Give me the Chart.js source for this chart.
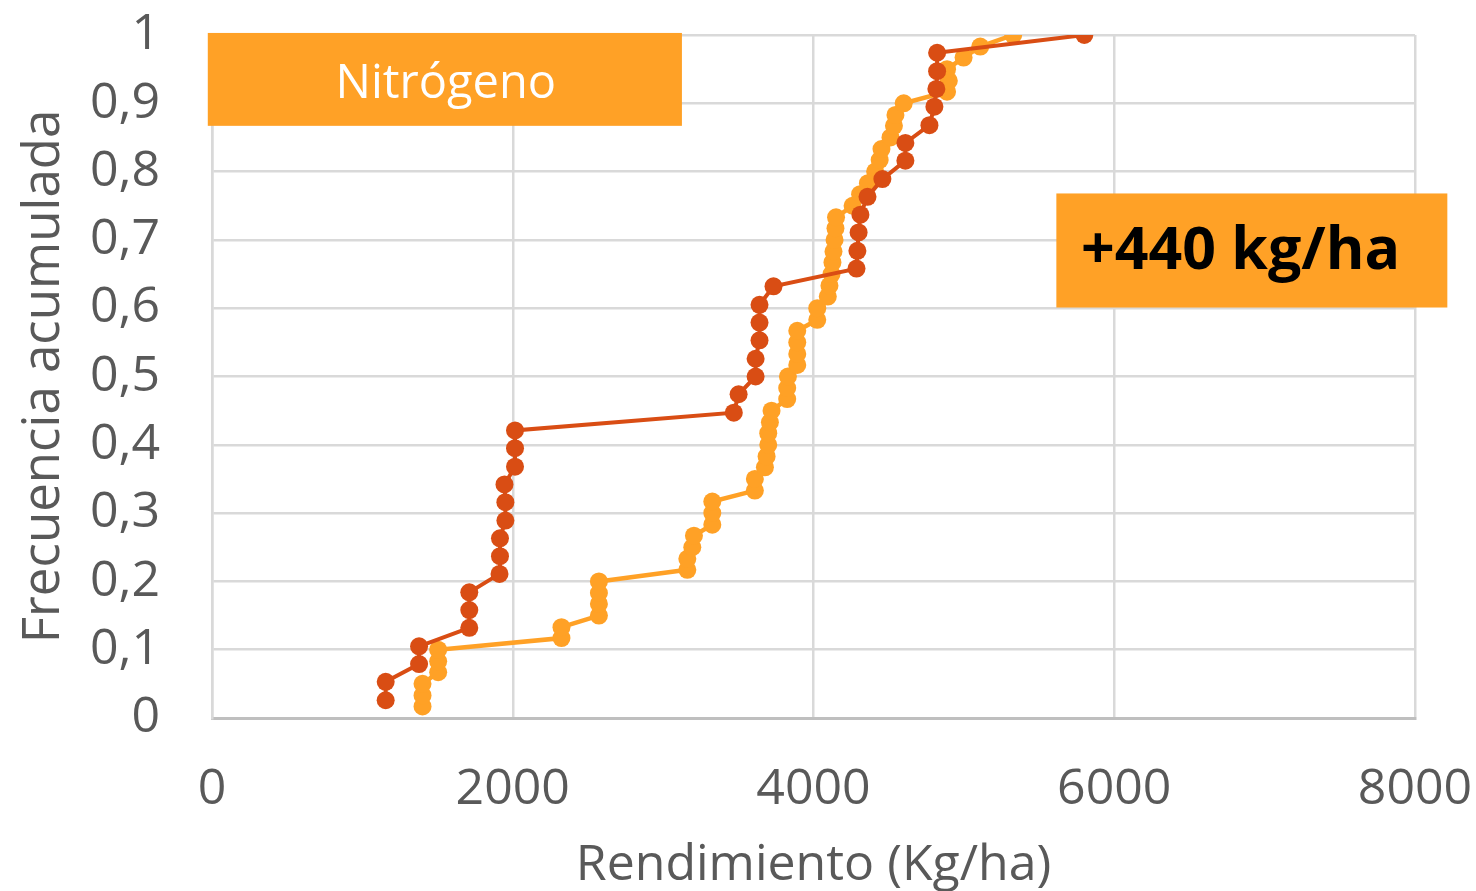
<!DOCTYPE html>
<html>
<head>
<meta charset="utf-8">
<script src="https://cdn.jsdelivr.net/npm/chart.js@4.4.1/dist/chart.umd.min.js"></script>
<style>
  html, body { margin: 0; padding: 0; background: #ffffff; }
  #wrap { width: 1476px; height: 891px; }
</style>
</head>
<body>
<div id="wrap"><canvas id="freqChart" width="1476" height="891"></canvas></div>
<script>
// tick labels
var xTicks = [0, 2000, 4000, 6000, 8000];
var yTickLabels = ['0', '0,1', '0,2', '0,3', '0,4', '0,5', '0,6', '0,7', '0,8', '0,9', '1'];

// dark series (38 points)
var darkYield = [1155, 1155, 1377, 1377, 1711, 1711, 1711, 1912, 1915, 1915,
                 1951, 1951, 1945, 2015, 2015, 2015, 3470, 3502, 3615, 3615,
                 3641, 3641, 3641, 3734, 4286, 4292, 4300, 4312, 4359, 4458,
                 4611, 4611, 4771, 4804, 4817, 4822, 4822, 5801];
var darkFreq = [0.026, 0.053, 0.079, 0.105, 0.132, 0.158, 0.184, 0.211, 0.237, 0.263,
                0.289, 0.316, 0.342, 0.368, 0.395, 0.421, 0.447, 0.474, 0.5, 0.526,
                0.553, 0.579, 0.605, 0.632, 0.658, 0.684, 0.711, 0.737, 0.763, 0.789,
                0.816, 0.842, 0.868, 0.895, 0.921, 0.947, 0.974, 1];

// light series (60 points)
var lightYield = [1400, 1400, 1400, 1504, 1504, 1504, 2324, 2324, 2573, 2573,
                  2573, 2573, 3161, 3161, 3194, 3205, 3327, 3327, 3327, 3610,
                  3610, 3677, 3688, 3699, 3699, 3710, 3721, 3825, 3825, 3830,
                  3892, 3892, 3892, 3892, 4025, 4025, 4095, 4106, 4120, 4126,
                  4133, 4140, 4146, 4150, 4260, 4310, 4362, 4410, 4440, 4452,
                  4512, 4535, 4545, 4600, 4888, 4900, 4888, 4998, 5109, 5328];
var lightFreq = [0.017, 0.033, 0.05, 0.067, 0.083, 0.1, 0.117, 0.133, 0.15, 0.167,
                 0.183, 0.2, 0.217, 0.233, 0.25, 0.267, 0.283, 0.3, 0.317, 0.333,
                 0.35, 0.367, 0.383, 0.4, 0.417, 0.433, 0.45, 0.467, 0.483, 0.5,
                 0.517, 0.533, 0.55, 0.567, 0.583, 0.6, 0.617, 0.633, 0.65, 0.667,
                 0.683, 0.7, 0.717, 0.733, 0.75, 0.767, 0.783, 0.8, 0.817, 0.833,
                 0.85, 0.867, 0.883, 0.9, 0.917, 0.933, 0.95, 0.967, 0.983, 1];

var FONT = "'Open Sans', 'Noto Sans', sans-serif";

function toPoints(xs, ys) {
    return xs.map(function (v, i) { return { x: v, y: ys[i] }; });
}

// label boxes, placed in axis units
var labelBoxes = [
    { text: 'Nitrógeno', x0: -28, x1: 3125, y0: 0.867, y1: 1.003, tx: 1555, dy: 5,
      fill: '#FFA126', color: '#ffffff', font: '47px ' + FONT },
    { text: '+440 kg/ha', x0: 5615, x1: 8215, y0: 0.601, y1: 0.768, tx: 6840, dy: 2,
      fill: '#FFA126', color: '#000000', font: 'bold 59px ' + FONT }
];

var boxPlugin = {
    id: 'labelBoxes',
    afterDraw: function (chart) {
        var ctx = chart.ctx, xs = chart.scales.x, ys = chart.scales.y;
        labelBoxes.forEach(function (b) {
            var l = xs.getPixelForValue(b.x0), r = xs.getPixelForValue(b.x1);
            var t = ys.getPixelForValue(b.y1), btm = ys.getPixelForValue(b.y0);
            ctx.save();
            ctx.fillStyle = b.fill;
            ctx.fillRect(l, t, r - l, btm - t);
            ctx.fillStyle = b.color;
            ctx.font = b.font;
            ctx.textAlign = 'center';
            ctx.textBaseline = 'middle';
            ctx.fillText(b.text, xs.getPixelForValue(b.tx), (t + btm) / 2 + b.dy);
            ctx.restore();
        });
    }
};

new Chart(document.getElementById('freqChart'), {
    type: 'scatter',
    data: {
        datasets: [
            {
                label: 'dark',
                data: toPoints(darkYield, darkFreq),
                showLine: true,
                borderColor: '#D94D14',
                backgroundColor: '#D94D14',
                borderWidth: 4,
                pointRadius: 9,
                pointHoverRadius: 9,
                pointBorderWidth: 0,
                tension: 0
            },
            {
                label: 'light',
                data: toPoints(lightYield, lightFreq),
                showLine: true,
                borderColor: '#FFA126',
                backgroundColor: '#FFA126',
                borderWidth: 4.5,
                pointRadius: 9,
                pointHoverRadius: 9,
                pointBorderWidth: 0,
                tension: 0
            }
        ]
    },
    options: {
        responsive: false,
        animation: false,
        devicePixelRatio: 1,
        layout: { padding: { top: 35, right: 61, bottom: 0, left: 0 } },
        plugins: {
            legend: { display: false },
            tooltip: { enabled: false }
        },
        scales: {
            x: {
                type: 'linear',
                min: 0,
                max: 8000,
                afterBuildTicks: function (scale) {
                    scale.ticks = xTicks.map(function (v) { return { value: v }; });
                },
                afterFit: function (scale) {
                    scale.height = 173;
                    scale.paddingLeft = 0;
                    scale.paddingRight = 0;
                },
                grid: { color: '#D9D9D9', lineWidth: 2.5, drawTicks: false },
                border: { color: '#BFBFBF', width: 3 },
                ticks: {
                    padding: 42,
                    color: '#595959',
                    font: { family: FONT, size: 50 },
                    maxRotation: 0,
                    callback: function (v) { return String(v); }
                },
                title: {
                    display: true,
                    text: 'Rendimiento (Kg/ha)',
                    color: '#595959',
                    font: { family: FONT, size: 50 },
                    padding: { top: 0, bottom: -5 }
                }
            },
            y: {
                type: 'linear',
                min: 0,
                max: 1,
                afterBuildTicks: function (scale) {
                    scale.ticks = yTickLabels.map(function (s, i) { return { value: i / 10 }; });
                },
                afterFit: function (scale) {
                    scale.width = 212;
                    scale.paddingTop = 0;
                    scale.paddingBottom = 0;
                },
                grid: { color: '#D9D9D9', lineWidth: 2.5, drawTicks: false },
                border: { color: '#D9D9D9', width: 2.5 },
                ticks: {
                    padding: 52,
                    color: '#595959',
                    font: { family: FONT, size: 50 },
                    callback: function (v, i) { return yTickLabels[i]; }
                },
                title: {
                    display: true,
                    text: 'Frecuencia acumulada',
                    color: '#595959',
                    font: { family: FONT, size: 51 },
                    padding: { top: 14, bottom: 0 }
                }
            }
        }
    },
    plugins: [boxPlugin]
});
</script>
</body>
</html>
